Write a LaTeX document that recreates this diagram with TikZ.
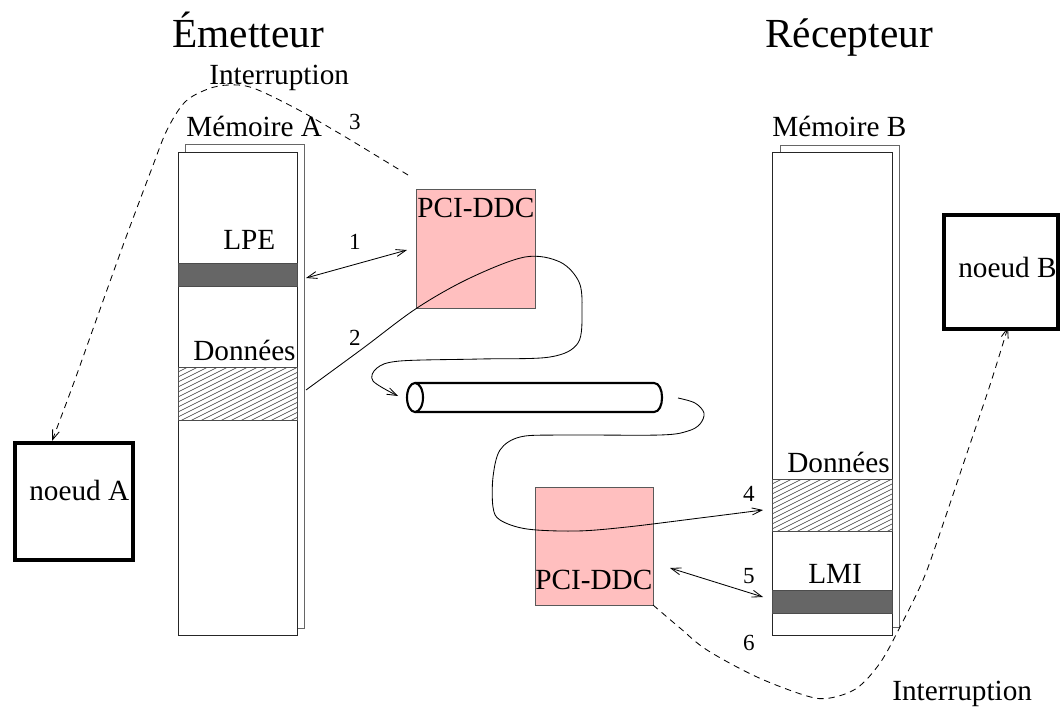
\documentclass[tikz,border=0pt]{standalone}
\usepackage{fontspec}
\setmainfont{Liberation Serif}
\usetikzlibrary{arrows.meta}
\definecolor{pcirose}{RGB}{255,191,191}
\definecolor{barre}{RGB}{102,102,102}
\begin{document}
\begin{tikzpicture}[x=0.025cm,y=-0.025cm,
	lbl/.style={font=\fontsize{20.8}{24}\selectfont,inner sep=0pt,anchor=base west},
	num/.style={font=\fontsize{16.4}{19}\selectfont,inner sep=0pt,anchor=base},
	titre/.style={font=\fontsize{29.4}{34}\selectfont,inner sep=0pt,anchor=base west},
	trait/.style={line width=0.6pt},
	mem/.style={trait,draw=black!85,fill=white},
	memfond/.style={trait,draw=black!60},
	bande/.style={trait,draw=black!70,fill=barre},
	hachure/.style={line width=0.35pt,black!80},
	pci/.style={trait,draw=black!65,fill=pcirose},
	noeud/.style={line width=2.8pt},
	tuyau/.style={line width=1.5pt},
	fleche/.style={trait,-{Straight Barb[length=7pt,width=5pt]}},
	dfleche/.style={trait,{Straight Barb[length=7pt,width=5pt]}-{Straight Barb[length=7pt,width=5pt]}},
	irq/.style={fleche,dash pattern=on 4.5pt off 3.5pt}]
	\useasboundingbox (0,0) rectangle (1062,708);
	%Titres
	\node[titre] (emet) at (172,48) {Émetteur};
	\node[titre] (recep) at (765,48) {Récepteur};
	%Memoire A
	\draw [memfond] (185,144) rectangle (304,628);
	\draw [mem] (178,152) rectangle (297,635);
	\draw [bande] (178,263) rectangle (297,286);
	\begin{scope}
		\clip (178,367) rectangle (297,420);
		\foreach \k in {0,5,...,120} \draw [hachure] (178,367+\k) -- ++(180,-90);
	\end{scope}
	\draw [trait,draw=black!70] (178,367) rectangle (297,420);
	%Memoire B
	\draw [memfond] (780,145) rectangle (899,627);
	\draw [mem] (772,152) rectangle (892,635);
	\draw [bande] (772,590) rectangle (892,613);
	\begin{scope}
		\clip (772,479) rectangle (892,531);
		\foreach \k in {0,5,...,120} \draw [hachure] (772,479+\k) -- ++(180,-90);
	\end{scope}
	\draw [trait,draw=black!70] (772,479) rectangle (892,531);
	%PCI-DDC
	\draw [pci] (416,189) rectangle (535,308);
	\draw [pci] (535,487) rectangle (653,605);
	%Noeuds
	\draw [noeud] (15,443) rectangle (133,560);
	\draw [noeud] (944,215) rectangle (1058,329);
	%Tuyau
	\draw [tuyau,fill=white] (415,383) -- (654,383) .. controls (664.7,383) and (664.7,412) .. (654,412) -- (415,412);
	\draw [tuyau,fill=white] (415,397.5) ellipse [x radius=0.2cm,y radius=0.3625cm];
	%Labels
	\node[lbl] (intA) at (209,85) {Interruption};
	\node[lbl] (memA) at (186,137) {Mémoire A};
	\node[lbl] (lpe) at (223,249) {LPE};
	\node[lbl] (donnA) at (193,360) {Données};
	\node[lbl] (pciA) at (417,218) {PCI-DDC};
	\node[lbl] (noeudA) at (29,500) {noeud A};
	\node[lbl] (memB) at (772,137) {Mémoire B};
	\node[lbl] (donnB) at (787,472) {Données};
	\node[lbl] (lmi) at (808,583) {LMI};
	\node[lbl] (pciB) at (535,589) {PCI-DDC};
	\node[lbl] (noeudB) at (958,277) {noeud B};
	\node[lbl] (intB) at (892,700) {Interruption};
	\node[num] (n1) at (355,249) {1};
	\node[num] (n2) at (355,345) {2};
	\node[num] (n3) at (355,130) {3};
	\node[num] (n4) at (749,501) {4};
	\node[num] (n5) at (749,583) {5};
	\node[num] (n6) at (749,650) {6};
	%Extremites
	\coordinate (lpeA) at (306,278);
	\coordinate (pciAin) at (407,250);
	\coordinate (donA) at (306,390);
	\coordinate (cylIn) at (398,396);
	\coordinate (cylOut) at (678,398);
	\coordinate (donB) at (763,510);
	\coordinate (pciBout) at (670,568);
	\coordinate (lmiB) at (763,597);
	\coordinate (pciAcoin) at (408,175);
	\coordinate (noeudAhaut) at (52,441);
	\coordinate (pciBcoin) at (653,605);
	\coordinate (noeudBbas) at (1008,327);
	%Liens
	\draw [dfleche] (lpeA) -- (pciAin);
	\draw [fleche] plot [smooth,tension=0.55] coordinates {(donA) (362,349) (417,308) (470,278) (525,257) (560,262) (579,282) (582,310) (578,343) (550,357) (480,359) (400,361) (377,368) (373,381) (cylIn)};
	\draw [fleche] plot [smooth,tension=0.55] coordinates {(cylOut) (695,403) (704,413) (700,424) (688,431) (660,435) (560,435) (520,437) (500,450) (493,477) (493,507) (500,520) (527,529) (577,531) (627,527) (700,518) (donB)};
	\draw [dfleche] (pciBout) -- (lmiB);
	\draw [irq] plot [smooth,tension=0.55] coordinates {(pciAcoin) (367,150) (337,132) (295,108) (253,88) (229,85) (208,89) (185,102) (167,130) (152,168) (125,240) (98,315) (73,385) (noeudAhaut)};
	\draw [irq] plot [smooth,tension=0.55] coordinates {(pciBcoin) (680,628) (707,650) (757,677) (807,696) (830,698) (857,688) (880,663) (900,627) (923,580) (940,533) (967,453) (990,385) (noeudBbas)};
\end{tikzpicture}
\end{document}
